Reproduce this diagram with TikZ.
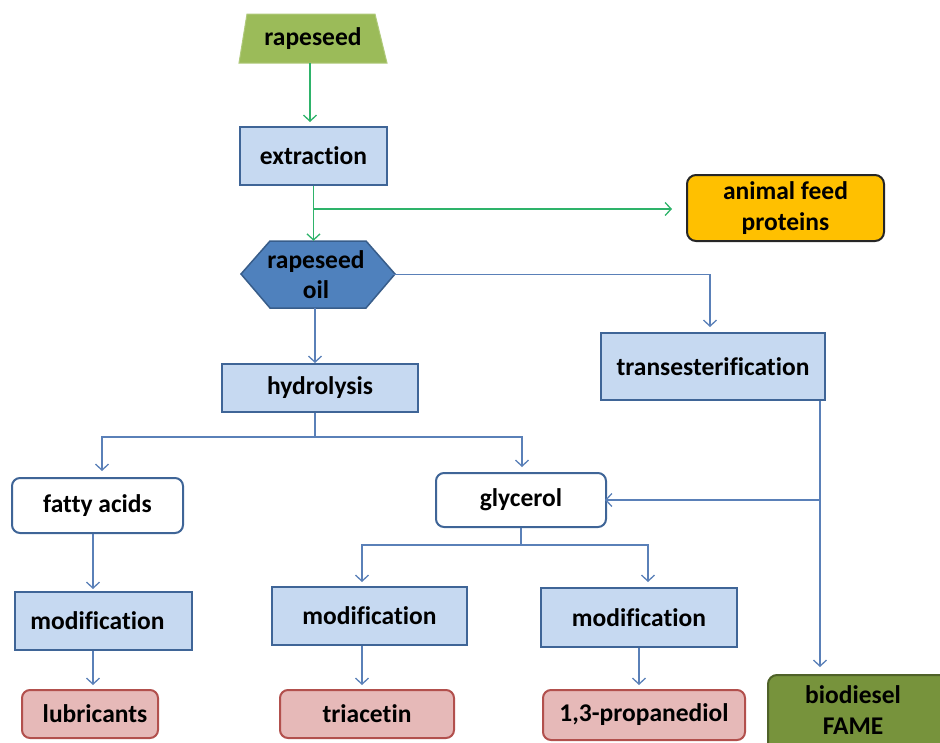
\documentclass[tikz,border=0pt]{standalone}
\usepackage{fontspec}
\setmainfont[Ligatures=NoCommon]{Carlito}
\usetikzlibrary{arrows.meta}
\definecolor{boxfill}{HTML}{C6D9F1}
\definecolor{boxline}{HTML}{3F6597}
\definecolor{conblue}{HTML}{5A80B8}
\definecolor{congreen}{HTML}{2EB36A}
\definecolor{seedfill}{HTML}{9BBB59}
\definecolor{seedline}{HTML}{AFC97A}
\definecolor{oilfill}{HTML}{4F81BD}
\definecolor{oilline}{HTML}{385D8A}
\definecolor{feedfill}{HTML}{FFC000}
\definecolor{pinkfill}{HTML}{E6B9B8}
\definecolor{pinkline}{HTML}{B2504D}
\definecolor{diesfill}{HTML}{77933C}
\definecolor{diesline}{HTML}{4F6228}
\begin{document}
\begin{tikzpicture}[x=1pt,y=-1pt,
  font=\fontsize{25.5}{30.5}\selectfont\bfseries,
  every node/.style={inner sep=0pt, align=center, text=black},
  procbox/.style={rectangle, draw=boxline, fill=boxfill, line width=2pt},
  whitebox/.style={rectangle, rounded corners=8pt, draw=boxline, fill=white, line width=2pt},
  pinkbox/.style={rectangle, rounded corners=8pt, draw=pinkline, fill=pinkfill, line width=2pt},
  blueline/.style={draw=conblue, line width=1.3pt},
  greenline/.style={draw=congreen, line width=1.3pt},
  tip/.style={-{Straight Barb[length=6pt,width=13pt]}}
]
\useasboundingbox (0,0) rectangle (940,742);
\clip (0,0) rectangle (940,742);

% rapeseed trapezium
\filldraw[fill=seedfill, draw=seedline, line width=1pt]
  (247,14) -- (375,14) -- (387,63) -- (239,63) -- cycle;
\node (seed) [minimum width=148pt, minimum height=49pt] at (313,38.5) {rapeseed};

% extraction
\node (extr) [procbox, minimum width=147pt, minimum height=58pt] at (313.5,156) {extraction};

% rapeseed oil hexagon
\filldraw[fill=oilfill, draw=oilline, line width=1.5pt]
  (241,274) -- (270,241) -- (366,241) -- (395,274) -- (366,308) -- (270,308) -- cycle;
\node (oil) [minimum width=154pt, minimum height=67pt] at (316,274.5) {rapeseed\\oil};

% animal feed
\node (feed) [rectangle, rounded corners=9pt, draw=black!85, fill=feedfill, line width=2pt,
  minimum width=197pt, minimum height=66pt] at (785.5,208) {animal feed\\proteins};

% transesterification
\node (trans) [procbox, minimum width=224pt, minimum height=67pt] at (713,366.5) {transesterification};

% hydrolysis
\node (hydro) [procbox, minimum width=196pt, minimum height=48pt] at (320,388) {hydrolysis};

% fatty acids, glycerol
\node (fatty) [whitebox, minimum width=171pt, minimum height=55pt] at (97.5,505.5) {fatty acids};
\node (glyc) [whitebox, minimum width=170pt, minimum height=54pt] at (521,500) {glycerol};

% modifications
\node (mod1) [procbox, minimum width=177pt, minimum height=58pt] at (103.5,621) {\hspace*{-12pt}modification};
\node (mod2) [procbox, minimum width=195pt, minimum height=58pt] at (369.5,616) {modification};
\node (mod3) [procbox, minimum width=196pt, minimum height=59pt] at (639,617.5) {modification};

% products
\node (lub) [pinkbox, minimum width=136pt, minimum height=48pt] at (90,714) {\hspace*{10pt}lubricants};
\node (tria) [pinkbox, minimum width=174pt, minimum height=48pt] at (367,714) {triacetin};
\node (prop) [pinkbox, minimum width=202pt, minimum height=50pt] at (644,715) {1,3-propanediol};
\node (dies) [rectangle, rounded corners=9pt, draw=diesline, fill=diesfill, line width=2pt,
  minimum width=182pt, minimum height=90pt] at (859,720) {};
\node (diestext) at (853,710) {biodiesel\\FAME};

% coordinates for branch points
\coordinate (gsplit) at (313.5,209);
\coordinate (hsplit) at (315,437);
\coordinate (fsplit) at (102,437);
\coordinate (glsplit) at (522,437);
\coordinate (tsplit) at (820,500);
\coordinate (tcorner) at (710,274.5);
\coordinate (gbr) at (521,545);
\coordinate (gbl) at (362,545);
\coordinate (gbrr) at (648,545);

% green connectors
\draw[greenline, tip, shorten >=5pt] (seed.south -| 310,0) -- (310,127);
\draw[greenline] (extr.south) -- (gsplit);
\draw[greenline, tip] (gsplit) -- (oil.north -| gsplit);
\draw[greenline, tip, shorten >=14pt] (gsplit) -- (gsplit -| feed.west);

% oil to transesterification
\draw[blueline, tip, shorten >=5pt] (oil.east) -- (oil.east -| tcorner) -- (trans.north -| tcorner);
% oil to hydrolysis
\draw[blueline, tip] (oil.south -| 315,0) -- (hydro.north -| 315,0);

% hydrolysis split
\draw[blueline] (hydro.south -| hsplit) -- (hsplit);
\draw[blueline, tip, shorten >=6pt] (hsplit) -- (fsplit) -- (fatty.north -| fsplit);
\draw[blueline, tip, shorten >=5pt] (hsplit) -- (glsplit) -- (glyc.north -| glsplit);

% transesterification down
\draw[blueline, tip, shorten >=7pt] (trans.south -| tsplit) -- (dies.north -| tsplit);
\draw[blueline, tip, shorten >=-2pt] (tsplit) -- (glyc.east);

% fatty branch
\draw[blueline, tip, shorten >=2pt] (fatty.south -| 93,0) -- (mod1.north -| 93,0);
\draw[blueline, tip, shorten >=4pt] (mod1.south -| 93,0) -- (lub.north -| 93,0);

% glycerol split
\draw[blueline] (glyc.south) -- (gbr);
\draw[blueline, tip, shorten >=4pt] (gbr) -- (gbl) -- (mod2.north -| gbl);
\draw[blueline, tip, shorten >=5pt] (gbr) -- (gbrr) -- (mod3.north -| gbrr);

% modification to products
\draw[blueline, tip, shorten >=4pt] (mod2.south -| 362,0) -- (tria.north -| 362,0);
\draw[blueline, tip, shorten >=4pt] (mod3.south -| 639,0) -- (prop.north -| 639,0);
\end{tikzpicture}
\end{document}
